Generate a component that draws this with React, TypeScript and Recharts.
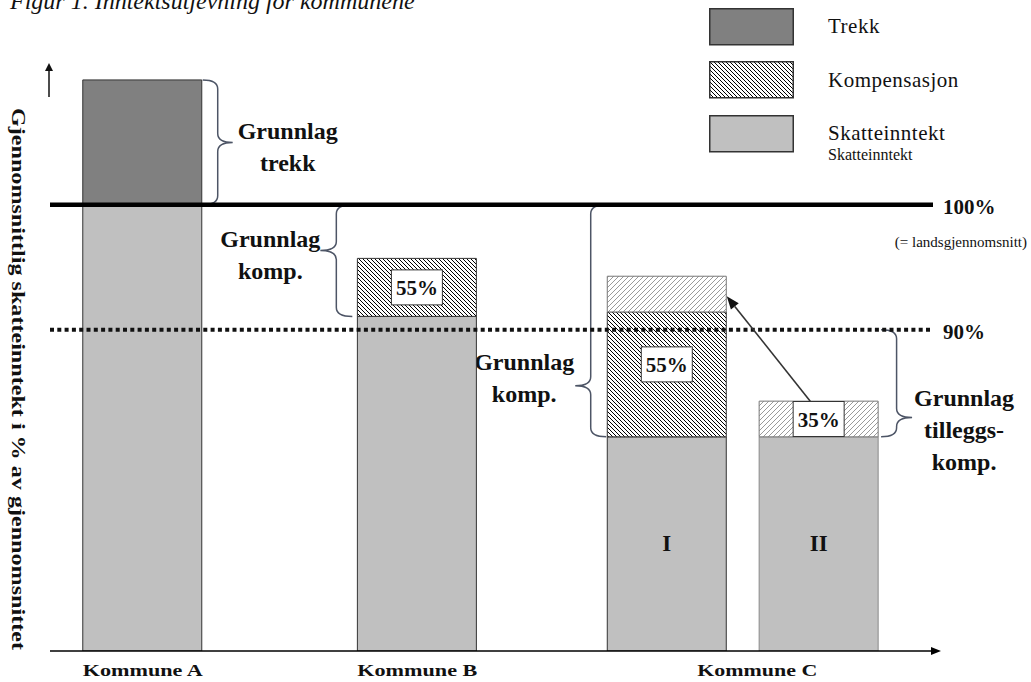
import React from "react";
import {
  ComposedChart,
  Bar,
  Cell,
  XAxis,
  YAxis,
  ReferenceLine,
  ReferenceArea,
  LabelList,
  Legend,
} from "recharts";

const FONT = '"Liberation Serif", "Times New Roman", serif';

// schematic heights, 100 = landsgjennomsnitt
const kommuner = ["Kommune A", "Kommune B", "Kommune C", "Kommune C"];
const delLabel = ["", "", "I", "II"];
const posisjon = [10.5, 41.6, 69.9, 87.1];
const skatteinntekt = [100, 75, 48, 48];
const trekk = [28, 0, 0, 0];
const kompensasjon = [0, 13, 28, 0];
const tilleggskomp = [0, 0, 8, 8];
const kompSats = ["", "55%", "55%", ""];
const tilleggSats = ["", "", "", "35%"];

const tickPos = [10.5, 41.6, 80.1];
const tickNavn = ["Kommune A", "Kommune B", "Kommune C"];

const LANDSSNITT = 100;
const GRENSE_90 = 72;

const legendOrder = ["Trekk", "Kompensasjon", "Skatteinntekt"];

const data = kommuner.map((k, i) => ({
  kommune: k,
  pos: posisjon[i],
  del: delLabel[i],
  skatt: skatteinntekt[i],
  trekk: trekk[i],
  komp: kompensasjon[i],
  tillegg: tilleggskomp[i],
  kompSats: kompSats[i],
  tilleggSats: tilleggSats[i],
}));

const BRACE = "#4d5566";

// brace annotations: offsets in px from bar centre
const braces = [
  { i: 0, y1: trekk[0] + skatteinntekt[0], y2: LANDSSNITT, ends: 60, tip: 90, tipAt: 0.5, lines: ["Grunnlag", "trekk"], dx: 55, dy: -11 },
  { i: 1, y1: LANDSSNITT, y2: skatteinntekt[1], ends: -65, tip: -97, tipAt: 0.41, lines: ["Grunnlag", "komp."], dx: -50, dy: -12 },
  { i: 2, y1: LANDSSNITT, y2: skatteinntekt[2], ends: -61, tip: -92, tipAt: 0.78, lines: ["Grunnlag", "komp."], dx: -51, dy: -24 },
  { i: 3, y1: GRENSE_90, y2: skatteinntekt[3], ends: 62, tip: 93, tipAt: 0.82, lines: ["Grunnlag", "tilleggs-", "komp."], dx: 52, dy: -20 },
];

function bracePath(xa: number, xb: number, top: number, bottom: number, tipY: number) {
  const mid = (xa + xb) / 2;
  const r = Math.min(9, (bottom - top) / 5);
  return `M${xa},${top} Q${mid},${top} ${mid},${top + r} L${mid},${tipY - r} Q${mid},${tipY} ${xb},${tipY} Q${mid},${tipY} ${mid},${tipY + r} L${mid},${bottom - r} Q${mid},${bottom} ${xa},${bottom}`;
}

const makeBrace = (b: any) => (p: any) => {
  const cx = p.x;
  const top = Math.min(p.y, p.y + p.height);
  const bottom = Math.max(p.y, p.y + p.height);
  const tipY = top + (bottom - top) * b.tipAt;
  const tx = cx + b.tip + b.dx;
  return (
    <g>
      <path d={bracePath(cx + b.ends, cx + b.tip, top, bottom, tipY)} fill="none" stroke={BRACE} strokeWidth={1.5} />
      {b.lines.map((l: string, k: number) => (
        <text key={k} x={tx} y={tipY + b.dy + k * 32} textAnchor="middle" dominantBaseline="central"
          fontFamily={FONT} fontWeight="bold" fontSize={24} fill="#111">
          {l}
        </text>
      ))}
    </g>
  );
};

const Pil = (p: any) => {
  const { x1, y1, x2, y2 } = p;
  const a = Math.atan2(y2 - y1, x2 - x1);
  const L = 13, W = 5;
  const bx = x2 - L * Math.cos(a), by = y2 - L * Math.sin(a);
  const nx = -Math.sin(a) * W, ny = Math.cos(a) * W;
  return (
    <g>
      <line x1={x1} y1={y1} x2={bx} y2={by} stroke="#333" strokeWidth={1.6} />
      <polygon points={`${x2},${y2} ${bx + nx},${by + ny} ${bx - nx},${by - ny}`} fill="#111" />
    </g>
  );
};

const midtTekst = (p: any) => {
  if (!p.value) return null;
  const vb = p.viewBox || p;
  const h = Math.abs(vb.height);
  const top = Math.min(vb.y, vb.y + vb.height);
  return (
    <text x={vb.x + vb.width / 2} y={top + h / 2} textAnchor="middle" dominantBaseline="central"
      fontFamily={FONT} fontWeight="bold" fontSize={23} fill="#111">
      {p.value}
    </text>
  );
};

const satsBoks = (p: any) => {
  if (!p.value) return null;
  const vb = p.viewBox || p;
  const hh = Math.abs(vb.height);
  const top = Math.min(vb.y, vb.y + vb.height);
  const cx = vb.x + vb.width / 2;
  // tall segments: box sits a little above the middle
  const cy = top + hh / 2 - (hh > 100 ? 10 : 0);
  const h = Math.min(35, hh);
  return (
    <g>
      <rect x={cx - 25.5} y={cy - h / 2} width={51} height={h} fill="#fff" stroke="#333" strokeWidth={1} />
      <text x={cx} y={cy + 1} textAnchor="middle" dominantBaseline="central" fontFamily={FONT}
        fontWeight="bold" fontSize={21} fill="#111">
        {p.value}
      </text>
    </g>
  );
};

const KommuneTick = (p: any) => {
  const i = tickPos.indexOf(p.payload.value);
  return (
    <text x={p.x} y={p.y + 25} textAnchor="middle" fontFamily={FONT} fontWeight="bold" fontSize={17}
      textLength={120} lengthAdjust="spacingAndGlyphs" fill="#111">
      {tickNavn[i]}
    </text>
  );
};

const yAxisLabel = (p: any) => {
  const vb = p.viewBox;
  const ax = vb.x + vb.width - 1;
  const cy = vb.y + vb.height / 2 + 18;
  const tx = 18;
  return (
    <g>
      <line x1={ax} y1={vb.y + 26} x2={ax} y2={vb.y - 2} stroke="#111" strokeWidth={1.5} />
      <polygon points={`${ax},${vb.y - 8} ${ax - 4},${vb.y} ${ax + 4},${vb.y}`} fill="#111" />
      <text x={tx} y={cy} transform={`rotate(90, ${tx}, ${cy})`} textAnchor="middle" dominantBaseline="central"
        fontFamily={FONT} fontWeight="bold" fontSize={19} textLength={542} lengthAdjust="spacingAndGlyphs" fill="#111">
        Gjennomsnittlig skatteinntekt i % av gjennomsnittet
      </text>
    </g>
  );
};

const refLabel = (lines: string[]) => (p: any) => {
  const vb = p.viewBox;
  const x = vb.x + vb.width + 10;
  return (
    <g>
      <text x={x} y={vb.y + 2} dominantBaseline="central" fontFamily={FONT} fontWeight="bold" fontSize={21} fill="#111">
        {lines[0]}
      </text>
      {lines[1] ? (
        <text x={1027} y={vb.y + 37} textAnchor="end" dominantBaseline="central" fontFamily={FONT} fontSize={15} fill="#111">
          {lines[1]}
        </text>
      ) : null}
    </g>
  );
};

const renderLegend = (props: any) => {
  const payload = props.payload || [];
  const items = legendOrder.map((n) => payload.find((p: any) => p.value === n)).filter(Boolean);
  return (
    <div style={{ position: "relative", width: 320, height: 170, fontFamily: FONT, color: "#111" }}>
      {items.map((it: any, i: number) => (
        <div key={it.value} style={{ position: "absolute", left: 0, top: i * 53.5, height: 37, display: "flex", alignItems: "center" }}>
          <svg width={85} height={38}>
            <rect x={0.75} y={0.75} width={83.5} height={36} fill={it.color} stroke="#333" strokeWidth={1.5} />
          </svg>
          <span style={{ marginLeft: 34, fontSize: 21, letterSpacing: 0.5, whiteSpace: "nowrap" }}>{it.value}</span>
        </div>
      ))}
      <div style={{ position: "absolute", left: 119, top: 138, fontSize: 16, whiteSpace: "nowrap" }}>Skatteinntekt</div>
    </div>
  );
};

export default function App() {
  return (
    <div style={{ position: "absolute", left: 0, top: 0, width: 1031, height: 682, background: "#fff", overflow: "hidden" }}>
      <div style={{ position: "absolute", left: 10, top: -11, fontFamily: FONT, fontStyle: "italic", fontSize: 24, lineHeight: "24px", whiteSpace: "nowrap", color: "#111" }}>
        Figur 1. Inntektsutjevning for kommunene
      </div>
      <ComposedChart width={1031} height={682} data={data} margin={{ top: 71, right: 98, bottom: 0, left: 0 }}>
        <defs>
          <pattern id="kompHatch" patternUnits="userSpaceOnUse" width={4} height={4}>
            <rect width={4} height={4} fill="#fff" />
            <path d="M-1,-1 L5,5 M-1,3 L1,5 M3,-1 L5,1" stroke="#000" strokeWidth={1} />
          </pattern>
          <pattern id="tilleggHatch" patternUnits="userSpaceOnUse" width={5} height={5}>
            <rect width={5} height={5} fill="#fff" />
            <path d="M-1,6 L6,-1 M-1,1 L1,-1 M4,6 L6,4" stroke="#9a9a9a" strokeWidth={1} />
          </pattern>
          <marker id="pilX" markerWidth={10} markerHeight={8} refX={2} refY={4} orient="auto" markerUnits="userSpaceOnUse">
            <path d="M0,0 L10,4 L0,8 Z" fill="#000" />
          </marker>
        </defs>
        <XAxis
          type="number"
          dataKey="pos"
          domain={[0, 100]}
          ticks={tickPos}
          interval={0}
          tickLine={false}
          tickSize={0}
          tickMargin={0}
          height={31}
          axisLine={{ stroke: "#000", strokeWidth: 1.5, markerEnd: "url(#pilX)" }}
          tick={<KommuneTick />}
          allowDataOverflow
        />
        <YAxis type="number" domain={[0, 130]} width={50} axisLine={false} tickLine={false} tick={false} label={yAxisLabel} allowDataOverflow />
        <Legend content={renderLegend} layout="vertical" align="center" verticalAlign="middle" wrapperStyle={{ top: 8, left: 709, width: 320, height: 170 }} />
        <Bar dataKey="skatt" name="Skatteinntekt" stackId="a" fill="#c0c0c0" stroke="#333" strokeWidth={1} barSize={119} isAnimationActive={false}>
          {data.map((d, i) => (
            <Cell key={i} stroke={i === 3 ? "#8a8a8a" : "#333"} />
          ))}
          <LabelList dataKey="del" content={midtTekst} />
        </Bar>
        <Bar dataKey="trekk" name="Trekk" stackId="a" fill="#808080" stroke="#333" strokeWidth={1} barSize={119} isAnimationActive={false} />
        <Bar dataKey="komp" name="Kompensasjon" stackId="a" fill="url(#kompHatch)" stroke="#333" strokeWidth={1} barSize={119} isAnimationActive={false}>
          <LabelList dataKey="kompSats" content={satsBoks} />
        </Bar>
        <Bar dataKey="tillegg" name="Tilleggskompensasjon" legendType="none" stackId="a" fill="url(#tilleggHatch)" stroke="#777" strokeWidth={1} barSize={119} isAnimationActive={false}>
          <LabelList dataKey="tilleggSats" content={satsBoks} />
        </Bar>
        <ReferenceLine y={LANDSSNITT} stroke="#000" strokeWidth={4.5} label={refLabel(["100%", "(= landsgjennomsnitt)"])} />
        <ReferenceLine y={GRENSE_90} stroke="#111" strokeWidth={4} strokeDasharray="4 3.3" label={refLabel(["90%"])} />
        {braces.map((b) => (
          <ReferenceArea key={b.i} x1={posisjon[b.i]} x2={posisjon[b.i]} y1={b.y1} y2={b.y2} shape={makeBrace(b)} />
        ))}
        <ReferenceLine
          segment={[
            { x: posisjon[3] - 1.0, y: skatteinntekt[3] + tilleggskomp[3] },
            { x: posisjon[2] + 6.74, y: 79.5 },
          ]}
          shape={Pil}
        />
      </ComposedChart>
    </div>
  );
}
